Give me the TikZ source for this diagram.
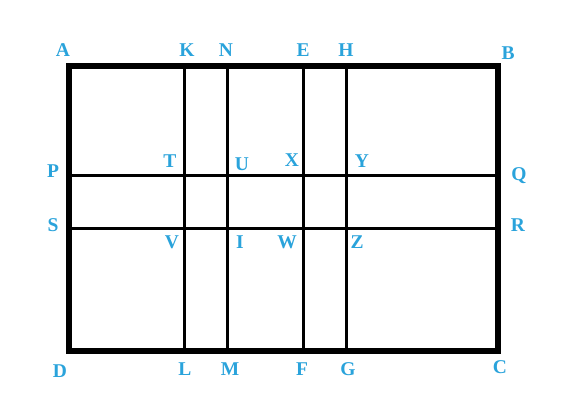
\documentclass[tikz,border=0pt]{standalone}
\usepackage{fontspec}
\setmainfont{Liberation Serif}
\definecolor{ptblue}{HTML}{2AA3DB}
\begin{document}
\begin{tikzpicture}[x=1pt,y=-1pt]
	\tikzstyle{lbl}=[text=ptblue,font=\fontsize{19.5}{19.5}\selectfont\bfseries,inner sep=0pt]
	\tikzstyle{thin}=[line width=3pt]
	\tikzstyle{frame}=[line width=6pt,line join=miter]
	\useasboundingbox (0,0) rectangle (567,406);
	% corners and ends of the lines
	\coordinate (A) at (69,66.5);
	\coordinate (B) at (497.5,66.5);
	\coordinate (C) at (497.5,350.5);
	\coordinate (D) at (69,350.5);
	\coordinate (K) at (184,66.5);
	\coordinate (N) at (227,66.5);
	\coordinate (E) at (303,66.5);
	\coordinate (H) at (346,66.5);
	\coordinate (L) at (184,350.5);
	\coordinate (M) at (227,350.5);
	\coordinate (F) at (303,350.5);
	\coordinate (G) at (346,350.5);
	\coordinate (P) at (69,175.5);
	\coordinate (Q) at (497.5,175.5);
	\coordinate (S) at (69,228.5);
	\coordinate (R) at (497.5,228.5);

	\path[thin]
	(K) edge (L)
	(N) edge (M)
	(E) edge (F)
	(H) edge (G)
	(P) edge (Q)
	(S) edge (R)
	;
	\draw[frame] (A) -- (B) -- (C) -- (D) -- cycle;

	% labels
	\node[lbl] (lA) at (63,50)  {A};
	\node[lbl] (lK) at (187,50) {K};
	\node[lbl] (lN) at (226,50) {N};
	\node[lbl] (lE) at (303,50) {E};
	\node[lbl] (lH) at (346,50) {H};
	\node[lbl] (lB) at (508,53) {B};
	\node[lbl] (lP) at (53,171) {P};
	\node[lbl] (lT) at (170,161) {T};
	\node[lbl] (lU) at (242,164) {U};
	\node[lbl] (lX) at (292,160) {X};
	\node[lbl] (lY) at (362,161) {Y};
	\node[lbl] (lQ) at (519,176) {Q};
	\node[lbl] (lS) at (53,225) {S};
	\node[lbl] (lR) at (518,225) {R};
	\node[lbl] (lV) at (172,242) {V};
	\node[lbl] (lI) at (240,242) {I};
	\node[lbl] (lW) at (287,242) {W};
	\node[lbl] (lZ) at (357,242) {Z};
	\node[lbl] (lD) at (60,371) {D};
	\node[lbl] (lL) at (185,369) {L};
	\node[lbl] (lM) at (230,369) {M};
	\node[lbl] (lF) at (302,369) {F};
	\node[lbl] (lG) at (348,369) {G};
	\node[lbl] (lC) at (500,367) {C};
\end{tikzpicture}
\end{document}
